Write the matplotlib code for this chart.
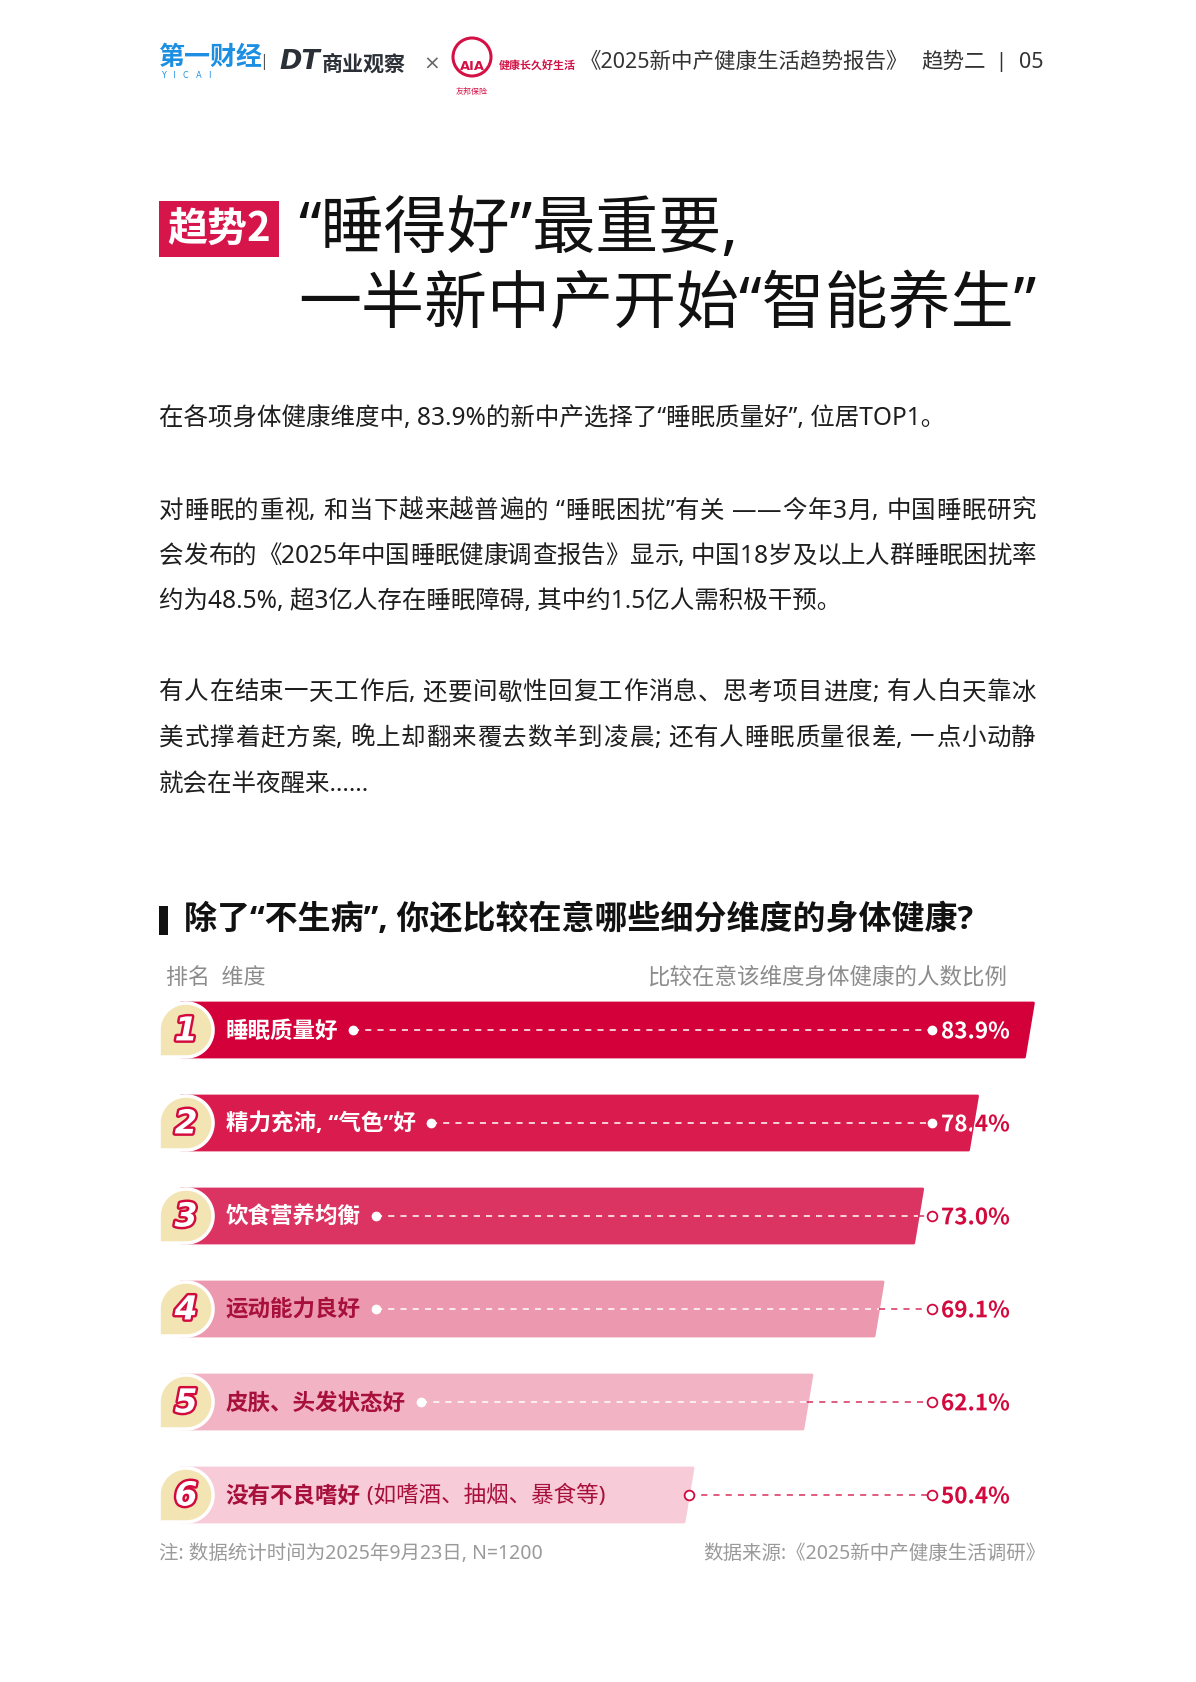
import matplotlib
matplotlib.use("Agg")
import matplotlib.pyplot as plt
from matplotlib.patches import Polygon, Rectangle, Circle, PathPatch
from matplotlib.textpath import TextPath
from matplotlib.font_manager import FontProperties
import matplotlib.transforms as mtransforms
import matplotlib.patheffects as pe
import numpy as np

CJK = ['Noto Sans CJK SC', 'DejaVu Sans']
LATIN_CJK = ['Noto Sans', 'Noto Sans CJK SC', 'DejaVu Sans']
LATIN_CJK_BOLD = ['Open Sans', 'Noto Sans CJK SC', 'DejaVu Sans']
plt.rcParams['font.family'] = LATIN_CJK

# ---- data ----
ranks = [1, 2, 3, 4, 5, 6]
dimensions = ["睡眠质量好", "精力充沛, “气色”好", "饮食营养均衡",
              "运动能力良好", "皮肤、头发状态好", "没有不良嗜好"]
dimension_notes = ["", "", "", "", "", " (如嗜酒、抽烟、暴食等)"]
shares = [83.9, 78.4, 73.0, 69.1, 62.1, 50.4]

para1 = ["在各项身体健康维度中, 83.9%的新中产选择了“睡眠质量好”, 位居TOP1。"]
para2 = ["对睡眠的重视, 和当下越来越普遍的 “睡眠困扰”有关 ——今年3月, 中国睡眠研究",
         "会发布的《2025年中国睡眠健康调查报告》显示, 中国18岁及以上人群睡眠困扰率",
         "约为48.5%, 超3亿人存在睡眠障碍, 其中约1.5亿人需积极干预。"]
para3 = ["有人在结束一天工作后, 还要间歇性回复工作消息、思考项目进度; 有人白天靠冰",
         "美式撑着赶方案, 晚上却翻来覆去数羊到凌晨; 还有人睡眠质量很差, 一点小动静",
         "就会在半夜醒来……"]

# ---- style ----
W, H, DPI = 1196, 1683, 100
bar_colors = ["#D4003A", "#D91C4D", "#DC3462", "#EC98AE", "#F2B4C5", "#F7CBD8"]
label_colors = ["white", "white", "white", "#A8103C", "#A8103C", "#A8103C"]
RED = "#D20A3E"
CREAM = "#F3E4B3"
TEXT = "#1E1E1E"
GRAY = "#8C8C8C"


def pt(px):
    return px * 72 / DPI


fig = plt.figure(figsize=(W / DPI, H / DPI), dpi=DPI)
bg = fig.add_axes([0, 0, 1, 1])
bg.set_xlim(0, W)
bg.set_ylim(H, 0)
bg.axis('off')
renderer = fig.canvas.get_renderer()

_adv_cache = {}


def advance(ch, fp):
    # advance width of one character in pixels
    key = (ch, fp.get_size_in_points())
    if key not in _adv_cache:
        w1 = renderer.get_text_width_height_descent("|" + ch + "|", fp, ismath=False)[0]
        w0 = renderer.get_text_width_height_descent("||", fp, ismath=False)[0]
        _adv_cache[key] = w1 - w0
    return _adv_cache[key]


def justified_line(x0, x1, y, line, size_px, color):
    fp = FontProperties(family=LATIN_CJK, size=pt(size_px))
    advs = [advance(c, fp) for c in line]
    extra = (x1 - x0 - sum(advs)) / (len(line) - 1)
    x = x0
    for c, a in zip(line, advs):
        if c != " ":
            bg.text(x, y, c, fontproperties=fp, color=color, va='center')
        x += a + extra


# header
bg.text(158, 57, "第一财经", fontsize=pt(26), fontweight='bold', color="#1C8FE3", va='center', family=CJK)
bg.text(161, 76, "Y   I   C   A   I", fontsize=pt(8), color="#1C8FE3", va='center', family='DejaVu Sans')
bg.text(264, 62, "|", fontsize=pt(16), color="#555555", va='center', ha='center')
bg.text(279, 62, "DT", fontsize=pt(27), fontweight='bold', style='italic', color="#2B2F36",
        va='center', family='DejaVu Sans')
bg.text(322, 64, "商业观察", fontsize=pt(21), fontweight='bold', color="#2B2F36", va='center', family=CJK)
bg.text(432, 64, "×", fontsize=pt(20), color="#666666", va='center', ha='center', family='DejaVu Sans')
bg.add_patch(Circle((472, 58), 19, facecolor='none', edgecolor="#D31145", lw=2.2))
bg.text(472, 66, "AIA", fontsize=pt(13), fontweight='bold', color="#D31145", ha='center', va='center',
        family='DejaVu Sans')
bg.text(472, 91, "友邦保险", fontsize=pt(8), color="#D31145", ha='center', va='center', family=CJK)
bg.text(499, 66, "健康长久好生活", fontsize=pt(11), fontweight='bold', color="#D31145", va='center',
        family=CJK)
bg.text(580, 62, "《2025新中产健康生活趋势报告》", fontsize=pt(21.5), color="#333333", va='center')
bg.text(921, 62, "趋势二", fontsize=pt(21.5), color="#333333", va='center')
bg.text(1001, 62, "|", fontsize=pt(20), color="#333333", va='center', ha='center')
bg.text(1044, 62, "05", fontsize=pt(21.5), color="#333333", va='center', ha='right')

# title
bg.add_patch(Rectangle((159, 202), 120, 56, color="#D6164B", lw=0))
bg.text(219, 230, "趋势2", fontsize=pt(40), fontweight='bold', color='white', ha='center', va='center',
        family=CJK)
bg.text(298, 231, "“睡得好”最重要,", fontsize=pt(63), fontweight='medium', color="#111111", va='center')
bg.text(298, 306, "一半新中产开始“智能养生”", fontsize=pt(63), fontweight='medium', color="#111111",
        va='center')

# body paragraphs (all but the last line of a paragraph are justified)
for lines, y0 in [(para1, 418), (para2, 511), (para3, 693)]:
    for k, line in enumerate(lines):
        y = y0 + k * 45.5
        if k < len(lines) - 1:
            justified_line(159, 1036, y, line, 24.5, TEXT)
        else:
            bg.text(159, y, line, fontsize=pt(24.5), color=TEXT, va='center')

# chart heading
bg.add_patch(Rectangle((159, 907), 9, 29, color="#111111", lw=0))
bg.text(184, 921, "除了“不生病”, 你还比较在意哪些细分维度的身体健康?", fontsize=pt(33),
        fontweight='bold', color="#111111", va='center', family=LATIN_CJK_BOLD)
bg.text(166, 978, "排名  维度", fontsize=pt(22), color=GRAY, va='center')
bg.text(1007, 978, "比较在意该维度身体健康的人数比例", fontsize=pt(22.5), color=GRAY, va='center', ha='right')

# footer
bg.text(159, 1554, "注: 数据统计时间为2025年9月23日, N=1200", fontsize=pt(19.5), color="#9A9A9A",
        va='center')
bg.text(1045, 1554, "数据来源:《2025新中产健康生活调研》", fontsize=pt(19.5), color="#9A9A9A",
        va='center', ha='right')

# ---- bar chart ----
ax = fig.add_axes([150 / W, 1 - 1542.5 / H, 1046 / W, 558 / H])
ax.set_xlim(-3.05, 99.9)
ax.set_ylim(6.5, 0.5)
ax.axis('off')
ax.patch.set_alpha(0)

px_x = 1046 / (99.9 + 3.05)
px_y = 93.0
hh = 27 / px_y
slant = 9 / px_x
badge_cx = 0.5
rx, ry = 27 / px_x, 27 / px_y
end_dot_x = 73.9
value_right_x = 81.5
value_fp = FontProperties(family=CJK, weight='bold', size=pt(22.5))

inv = ax.transData.inverted()

for i, (r, name, note, v) in enumerate(zip(ranks, dimensions, dimension_notes, shares)):
    top, bot = r - hh, r + hh
    bar = Polygon([(0, top), (v, top), (v - slant, bot), (0, bot)], closed=True,
                  facecolor=bar_colors[i], edgecolor=bar_colors[i], lw=2, joinstyle='round', zorder=2)
    ax.add_patch(bar)
    outside = Polygon([(v + slant * 0.33, r - 0.48), (120, r - 0.48), (120, r + 0.48),
                       (v - slant * 1.33, r + 0.48)], closed=True, facecolor='none', lw=0,
                      transform=ax.transData)

    # rank badge
    t = np.linspace(np.pi, -np.pi / 2, 60)
    pts = [(badge_cx - rx, bot)] + [(badge_cx + rx * np.cos(a), r - ry * np.sin(a)) for a in t]
    ax.add_patch(Polygon(pts, closed=True, facecolor=CREAM, edgecolor='white', lw=2.5, zorder=3))
    ax.text(badge_cx, r + 0.01, str(r), fontsize=pt(33), fontweight='bold', style='italic',
            family='DejaVu Sans', color='white', ha='center', va='center', zorder=4,
            path_effects=[pe.Stroke(linewidth=3.5, foreground=RED), pe.Normal()])

    # dimension label
    lab = ax.text(4.4, r, name, fontsize=pt(22.5), fontweight='bold', color=label_colors[i],
                  va='center', ha='left', zorder=4,
                  family=LATIN_CJK_BOLD if "“" in name else CJK)
    bb = lab.get_window_extent(renderer)
    x_end = inv.transform((bb.x1, bb.y0))[0]
    if note:
        nt = ax.text(x_end, r, note, fontsize=pt(22.5), color=label_colors[i], va='center',
                     ha='left', zorder=4)
        bb = nt.get_window_extent(renderer)
        x_end = inv.transform((bb.x1, bb.y0))[0]

    bar_mid = v - slant / 2
    if i == len(ranks) - 1:
        start = bar_mid
        start_hollow = True
    else:
        start = x_end + 1.5
        start_hollow = False

    # leader line
    inner_end = min(end_dot_x, bar_mid)
    if inner_end > start:
        ax.plot([start, inner_end], [r, r], color='white', lw=1.1, ls=(0, (4, 4)), zorder=4)
    if bar_mid < end_dot_x:
        ax.plot([max(bar_mid, start), end_dot_x], [r, r], color="#D8305C", lw=1.1,
                ls=(0, (4, 4)), zorder=4)

    if start_hollow:
        ax.plot(start, r, 'o', ms=7, mfc='white', mec=RED, mew=1.3, zorder=5)
    else:
        ax.plot(start, r, 'o', ms=6, mfc='white', mec='white', zorder=5)
    if end_dot_x < bar_mid:
        ax.plot(end_dot_x, r, 'o', ms=6, mfc='white', mec='white', zorder=5)
    else:
        ax.plot(end_dot_x, r, 'o', ms=7, mfc='white', mec=RED, mew=1.3, zorder=5)

    # value label as a path: red outside the bar, white inside
    tp = TextPath((0, 0), f"{v:.1f}%", prop=value_fp)
    ext = tp.get_extents()
    k = DPI / 72
    trans = (mtransforms.Affine2D().translate(-ext.x1, -(ext.y0 + ext.y1) / 2).scale(k)
             + mtransforms.ScaledTranslation(value_right_x, r, ax.transData))
    red_p = PathPatch(tp, transform=trans, facecolor=RED, lw=0, zorder=5)
    ax.add_patch(red_p)
    red_p.set_clip_path(outside)
    white_p = PathPatch(tp, transform=trans, facecolor='white', lw=0, zorder=6)
    ax.add_patch(white_p)
    white_p.set_clip_path(bar)

fig.savefig("out.png", dpi=DPI)
